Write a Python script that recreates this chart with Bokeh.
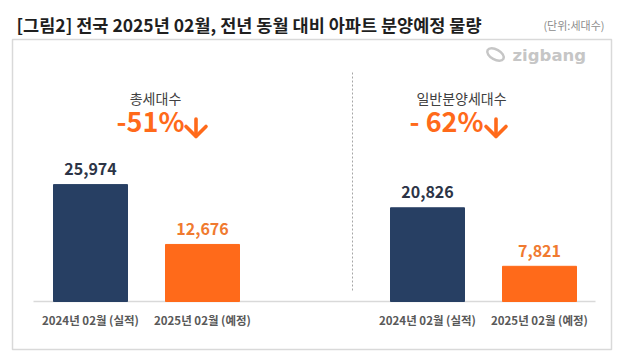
from bokeh.plotting import figure
from bokeh.models import Range1d, ColumnDataSource, LabelSet, Label
from bokeh.core.properties import value
from bokeh.embed import file_html
from bokeh.resources import INLINE

# ---- data ----
groups = ["총세대수", "일반분양세대수"]
changes = ["-51%", "- 62%"]
periods = ["2024년 02월 (실적)", "2025년 02월 (예정)"]
values_total = [25974, 12676]
values_general = [20826, 7821]
title = "[그림2] 전국 2025년 02월, 전년 동월 대비 아파트 분양예정 물량"
unit_text = "(단위:세대수)"

W, H = 620, 356
FONT = "Noto Sans CJK KR"
NAVY = "#273f63"
ORANGE = "#ff6a1a"

def py(ry):
    return H - ry

base_px = py(301)      # baseline height in pixels from bottom
px_per_unit = 117 / 26000
y0 = -base_px / px_per_unit
y1 = (H - base_px) / px_per_unit

p = figure(width=W, height=H, output_backend="svg", toolbar_location=None,
           x_range=Range1d(0, W), y_range=Range1d(y0, y1), min_border=0)
p.extra_y_ranges = {"px": Range1d(0, H)}
p.axis.visible = False
p.xgrid.visible = False
p.ygrid.visible = False
p.outline_line_color = None
p.background_fill_color = "white"
p.border_fill_color = "white"

# outer box
p.quad(left=[12], right=[611], bottom=[py(349)], top=[py(39)], y_range_name="px",
       fill_alpha=0, line_color="#d9d9d9", line_width=1.5)

# divider and baseline
p.segment(x0=[352], y0=[py(72)], x1=[352], y1=[py(292)], y_range_name="px",
          line_color="#a6a6a6", line_width=1, line_dash="2 2")
p.segment(x0=[33], y0=[base_px], x1=[595], y1=[base_px], y_range_name="px",
          line_color="#d9d9d9", line_width=1.5)

# bars
group_x = [90, 427]
step = 112
xs, tops, colors, txt_colors, labels, cats = [], [], [], [], [], []
for gx, vals in zip(group_x, [values_total, values_general]):
    for i, v in enumerate(vals):
        xs.append(gx + i * step)
        tops.append(v)
        colors.append(NAVY if i == 0 else ORANGE)
        txt_colors.append("#2c3446" if i == 0 else "#f07a30")
        labels.append(f"{v:,}")
        cats.append(periods[i])
src = ColumnDataSource(dict(x=xs, top=tops, color=colors, tc=txt_colors,
                            label=labels, cat=cats,
                            cy=[py(319)] * len(xs)))
p.vbar(x="x", top="top", bottom=0, width=74, color="color", source=src)

p.add_layout(LabelSet(x="x", y="top", text="label", source=src, y_offset=15.5,
                      text_align="center", text_baseline="middle",
                      text_font=value(FONT), text_font_style="bold",
                      text_font_size="16px", text_color="tc"))
p.add_layout(LabelSet(x="x", y="cy", y_range_name="px", text="cat", source=src,
                      text_align="center", text_baseline="middle",
                      text_font=value(FONT), text_font_style="bold",
                      text_font_size="11.5px", text_color="#595959"))

# group headers
for cx, g in zip([155, 461], groups):
    p.add_layout(Label(x=cx, y=py(97.5), x_units="screen", y_units="screen",
                       text=g, text_align="center", text_baseline="middle",
                       text_font=FONT, text_font_size="14px",
                       text_color="#404040"))
for cx, ax, c in zip([150, 446], [195.5, 495.5], changes):
    p.add_layout(Label(x=cx, y=py(120), x_units="screen", y_units="screen",
                       text=c, text_align="center", text_baseline="middle",
                       text_font=FONT, text_font_style="bold",
                       text_font_size="27px", text_color=ORANGE))
    # down arrow drawn as strokes
    p.multi_line(xs=[[ax, ax], [ax - 10, ax, ax + 10]],
                 ys=[[py(118.5), py(135.5)], [py(126), py(136), py(126)]],
                 y_range_name="px", line_color=ORANGE, line_width=3.6,
                 line_cap="round", line_join="round")

# title and unit
p.add_layout(Label(x=16, y=py(24), x_units="screen", y_units="screen", text=title,
                   text_align="left", text_baseline="middle", text_font=FONT,
                   text_font_style="bold", text_font_size="17.5px",
                   text_color="#1f1f1f"))
p.add_layout(Label(x=604, y=py(24), x_units="screen", y_units="screen",
                   text=unit_text, text_align="right", text_baseline="middle",
                   text_font=FONT, text_font_size="11px", text_color="#8c8c8c"))

# logo
p.ellipse(x=[495], y=[py(54)], width=18, height=10, angle=-0.5,
          y_range_name="px", fill_alpha=0, line_color="#c6c6c6", line_width=2.5)
p.add_layout(Label(x=512, y=py(54.5), x_units="screen", y_units="screen",
                   text="zigbang", text_align="left", text_baseline="middle",
                   text_font="DejaVu Sans", text_font_style="bold",
                   text_font_size="16.5px", text_color="#c6c6c6"))

open("out.html", "w").write(file_html(p, INLINE))
